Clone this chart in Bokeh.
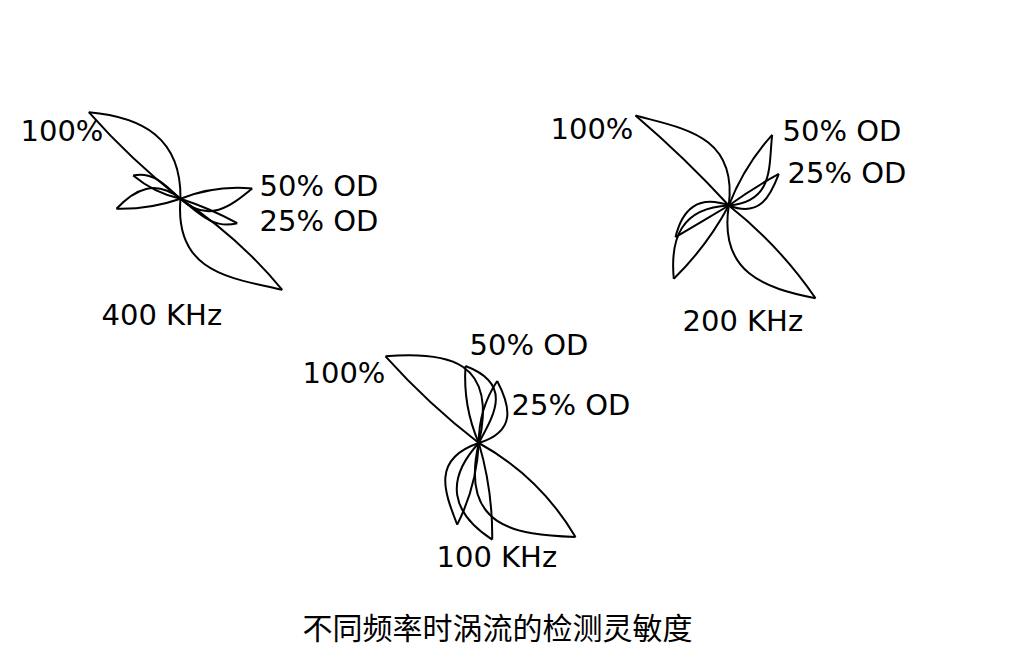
import math
from bokeh.plotting import figure
from bokeh.models import Range1d
from bokeh.core.properties import value
from bokeh.embed import file_html
from bokeh.resources import INLINE

# ---------------- data ----------------
# Lissajous (figure-8) eddy-current signals; each signal = two lobes (A, B).
# Lobe order: 100% A, 100% B, 50% OD A, 50% OD B, 25% OD A, 25% OD B
# tip offsets from the figure centre (px, y pointing down),
# bulge of curved side near centre / near tip, bulge of flat side (fraction of lobe length)
f400_tip_dx = [-91.7, 101.7, 71.7, -64.0, -47.3, 56.7]
f400_tip_dy = [-86.6, 91.0, -10.3, 10.0, -23.3, 24.4]
f400_bulge_near = [0.36, 0.44, 0.40, 0.36, 0.08, 0.08]
f400_bulge_far = [0.26, 0.18, 0.20, 0.26, 0.26, 0.26]
f400_flat = [-0.03, -0.05, -0.08, -0.06, -0.08, -0.03]

f200_tip_dx = [-93.3, 86.7, 43.4, -55.0, 50.0, -53.3]
f200_tip_dy = [-90.0, 92.7, -70.7, 73.3, -31.7, 31.7]
f200_bulge_near = [0.44, 0.42, 0.45, 0.40, 0.45, 0.40]
f200_bulge_far = [0.18, 0.24, 0.15, 0.30, 0.25, 0.34]
f200_flat = [0.02, -0.05, -0.06, -0.05, -0.02, 0.0]

f100_tip_dx = [-93.3, 96.7, -13.3, 13.4, 18.4, -21.6]
f100_tip_dy = [-86.7, 94.0, -77.0, 96.6, -62.0, 81.6]
f100_bulge_near = [0.58, 0.55, 0.26, 0.40, 0.50, 0.50]
f100_bulge_far = [0.36, 0.30, 0.56, 0.38, 0.32, 0.24]
f100_flat = [-0.03, -0.09, -0.08, -0.05, -0.10, -0.07]

freq_labels = ["400 KHz", "200 KHz", "100 KHz"]
signal_labels = ["100%", "50% OD", "25% OD"]
caption = "不同频率时涡流的检测灵敏度"

# ---------------- layout ----------------
W, H = 1016, 658
centres = [(180.0, 198.3), (728.3, 205.0), (478.3, 442.5)]
# label anchor points (left, middle) for 100%, 50% OD, 25% OD, frequency
label_pos = [
    [(20, 130), (259, 185), (259, 220), (101, 314)],
    [(550, 128), (782, 130), (787, 172), (682, 320)],
    [(302, 372), (469, 344), (511, 404), (436, 556)],
]

p = figure(width=W, height=H, output_backend="svg", toolbar_location=None,
           x_range=Range1d(0, W), y_range=Range1d(H, 0),
           min_border=0, outline_line_color=None)
p.axis.visible = False
p.grid.visible = False
p.background_fill_color = "white"
p.border_fill_color = "white"

sets = [
    (f400_tip_dx, f400_tip_dy, f400_bulge_near, f400_bulge_far, f400_flat),
    (f200_tip_dx, f200_tip_dy, f200_bulge_near, f200_bulge_far, f200_flat),
    (f100_tip_dx, f100_tip_dy, f100_bulge_near, f100_bulge_far, f100_flat),
]

bz = dict(x0=[], y0=[], x1=[], y1=[], cx0=[], cy0=[], cx1=[], cy1=[])
for (cx, cy), (tdx, tdy, bn, bf, fl) in zip(centres, sets):
    for i in range(len(tdx)):
        dx, dy = tdx[i], tdy[i]
        L = math.hypot(dx, dy)
        ux, uy = dx / L, dy / L
        nx, ny = -uy, ux
        tx, ty = cx + dx, cy + dy
        for h1, h2 in ((bn[i], bf[i]), (fl[i], fl[i])):
            bz["x0"].append(cx); bz["y0"].append(cy)
            bz["x1"].append(tx); bz["y1"].append(ty)
            bz["cx0"].append(cx + 0.33 * dx + h1 * L * nx)
            bz["cy0"].append(cy + 0.33 * dy + h1 * L * ny)
            bz["cx1"].append(cx + 0.67 * dx + h2 * L * nx)
            bz["cy1"].append(cy + 0.67 * dy + h2 * L * ny)

p.bezier(x0="x0", y0="y0", x1="x1", y1="y1", cx0="cx0", cy0="cy0",
         cx1="cx1", cy1="cy1", source=bz, line_color="black", line_width=2.0)

tx, ty, tt = [], [], []
for k in range(3):
    names = signal_labels + [freq_labels[k]]
    for (x, y), t in zip(label_pos[k], names):
        tx.append(x); ty.append(y); tt.append(t)
p.text(x=tx, y=ty, text=tt, text_font=value("DejaVu Sans"),
       text_font_size="29px", text_baseline="middle", text_align="left",
       text_color="black")

p.text(x=[497], y=[625], text=[caption], text_font=value("Noto Sans CJK SC"),
       text_font_size="30px", text_baseline="middle", text_align="center",
       text_color="black")

open("out.html", "w").write(file_html(p, INLINE))
